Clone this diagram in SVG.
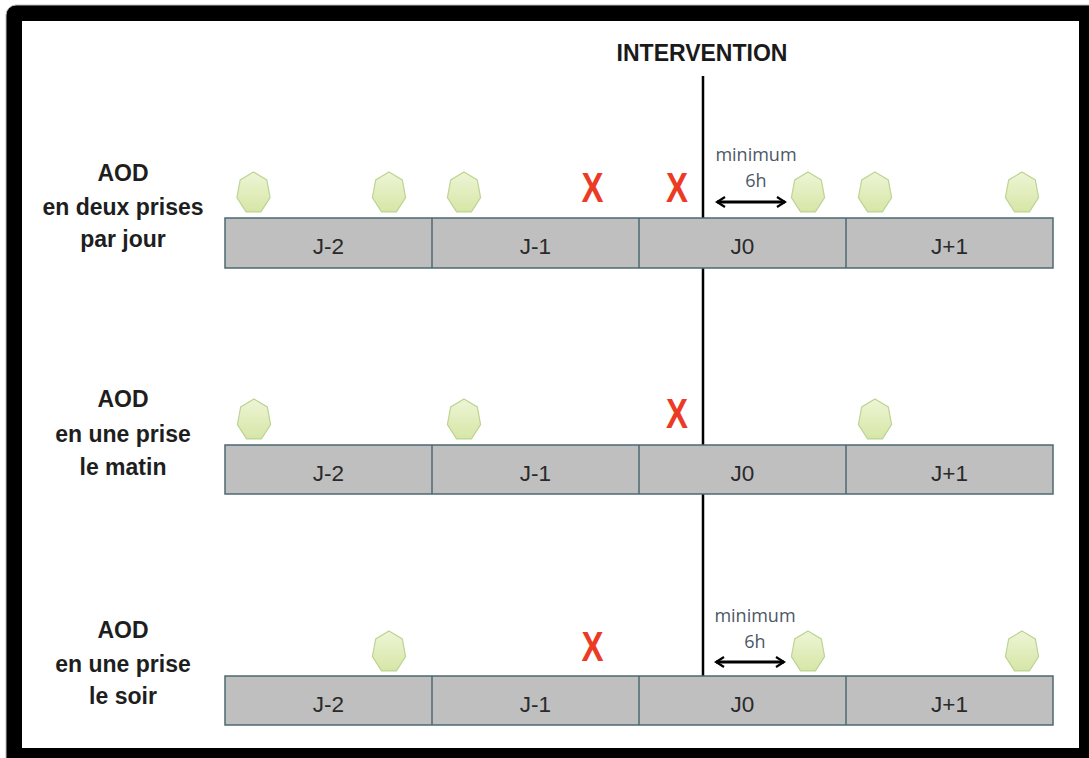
<svg xmlns="http://www.w3.org/2000/svg" width="1089" height="758" viewBox="0 0 1089 758">
<defs>
<style>
.lbl{font-family:"Liberation Sans",Arial,sans-serif;font-weight:bold;font-size:23px;fill:#1e1e1e;text-anchor:middle}
.day{font-family:"Liberation Sans",Arial,sans-serif;font-size:22.5px;fill:#2a2a2a;text-anchor:middle}
.bar{fill:#bfbfbf;stroke:#4d6872;stroke-width:1.5}
.div{stroke:#4d6872;stroke-width:1.5}
.hep{fill:url(#hg);stroke:#bcd494;stroke-width:1.2}
.x{font-family:"Liberation Sans",Arial,sans-serif;font-weight:bold;font-size:42px;fill:#ec3b25;text-anchor:middle}
.min{font-family:"Open Sans","Liberation Sans",sans-serif;font-size:18px;fill:#4a5866;text-anchor:middle}
.arr{stroke:#000;stroke-width:3;fill:none;marker-start:url(#ah);marker-end:url(#ah)}
</style>
<linearGradient id="hg" x1="0" y1="0" x2="0" y2="1">
<stop offset="0" stop-color="#eef5d6"/>
<stop offset="1" stop-color="#d6e6a6"/>
</linearGradient>
<polygon id="hept" points="0,-21 13.3,-13.1 16.6,4.7 7.4,18.9 -7.4,18.9 -16.6,4.7 -13.3,-13.1"/>
<marker id="ah" viewBox="0 0 12 12" refX="10" refY="6" markerWidth="4" markerHeight="4" orient="auto-start-reverse">
<path d="M2,1 L10,6 L2,11" fill="none" stroke="#000" stroke-width="2.2"/>
</marker>
</defs>
<rect x="0" y="0" width="1089" height="758" fill="#ffffff"/>
<rect x="6" y="5" width="1100" height="770" rx="10" fill="#000" stroke="#bbb" stroke-width="1"/>
<rect x="22" y="21" width="1057" height="727" fill="#ffffff"/>

<g id="intervention">
<text x="702" y="61" font-family="Liberation Sans,Arial,sans-serif" font-weight="bold" font-size="23" fill="#1a1a1a" text-anchor="middle">INTERVENTION</text>
<line x1="703" y1="76" x2="703" y2="690" stroke="#000" stroke-width="2.5"/>
</g>

<g id="row1">
<g id="row1-label">
<text class="lbl" x="123" y="181">AOD</text>
<text class="lbl" x="123" y="215">en deux prises</text>
<text class="lbl" x="123" y="247">par jour</text>
</g>
<g id="row1-bar">
<rect class="bar" x="225" y="218" width="828" height="50"/>
<line class="div" x1="432" y1="218" x2="432" y2="268"/>
<line class="div" x1="639" y1="218" x2="639" y2="268"/>
<line class="div" x1="846" y1="218" x2="846" y2="268"/>
<text class="day" x="328.5" y="254">J-2</text>
<text class="day" x="535.5" y="254">J-1</text>
<text class="day" x="742.5" y="254">J0</text>
<text class="day" x="949.5" y="254">J+1</text>
</g>
<g id="row1-doses">
<use href="#hept" class="hep" x="253.5" y="193"/>
<use href="#hept" class="hep" x="389" y="193"/>
<use href="#hept" class="hep" x="464" y="193"/>
<use href="#hept" class="hep" x="808" y="193"/>
<use href="#hept" class="hep" x="875" y="193"/>
<use href="#hept" class="hep" x="1022" y="193"/>
<text class="x" x="592.5" y="202" textLength="22" lengthAdjust="spacingAndGlyphs">X</text>
<text class="x" x="677" y="202" textLength="22" lengthAdjust="spacingAndGlyphs">X</text>
</g>
<g id="row1-gap">
<text class="min" x="756" y="161">minimum</text>
<text class="min" x="756" y="187">6h</text>
</g>
</g>

<g id="row2">
<g id="row2-label">
<text class="lbl" x="123" y="407">AOD</text>
<text class="lbl" x="123" y="442">en une prise</text>
<text class="lbl" x="123" y="475">le matin</text>
</g>
<g id="row2-bar">
<rect class="bar" x="225" y="445" width="828" height="49"/>
<line class="div" x1="432" y1="445" x2="432" y2="494"/>
<line class="div" x1="639" y1="445" x2="639" y2="494"/>
<line class="div" x1="846" y1="445" x2="846" y2="494"/>
<text class="day" x="328.5" y="481">J-2</text>
<text class="day" x="535.5" y="481">J-1</text>
<text class="day" x="742.5" y="481">J0</text>
<text class="day" x="949.5" y="481">J+1</text>
</g>
<g id="row2-doses">
<use href="#hept" class="hep" x="254" y="420"/>
<use href="#hept" class="hep" x="464" y="420"/>
<use href="#hept" class="hep" x="875" y="420"/>
<text class="x" x="677" y="428" textLength="22" lengthAdjust="spacingAndGlyphs">X</text>
</g>
</g>

<g id="row3">
<g id="row3-label">
<text class="lbl" x="123" y="638">AOD</text>
<text class="lbl" x="123" y="672">en une prise</text>
<text class="lbl" x="123" y="704">le soir</text>
</g>
<g id="row3-bar">
<rect class="bar" x="225" y="676" width="828" height="49"/>
<line class="div" x1="432" y1="676" x2="432" y2="725"/>
<line class="div" x1="639" y1="676" x2="639" y2="725"/>
<line class="div" x1="846" y1="676" x2="846" y2="725"/>
<text class="day" x="328.5" y="712">J-2</text>
<text class="day" x="535.5" y="712">J-1</text>
<text class="day" x="742.5" y="712">J0</text>
<text class="day" x="949.5" y="712">J+1</text>
</g>
<g id="row3-doses">
<use href="#hept" class="hep" x="389" y="652"/>
<use href="#hept" class="hep" x="808" y="652"/>
<use href="#hept" class="hep" x="1022" y="652"/>
<text class="x" x="592.5" y="661" textLength="22" lengthAdjust="spacingAndGlyphs">X</text>
</g>
<g id="row3-gap">
<text class="min" x="755" y="622">minimum</text>
<text class="min" x="755" y="648">6h</text>
</g>
</g>

<g id="connectors">
<line class="arr" x1="717" y1="202" x2="785" y2="202"/>
<line class="arr" x1="716" y1="662" x2="784" y2="662"/>
</g>
</svg>
